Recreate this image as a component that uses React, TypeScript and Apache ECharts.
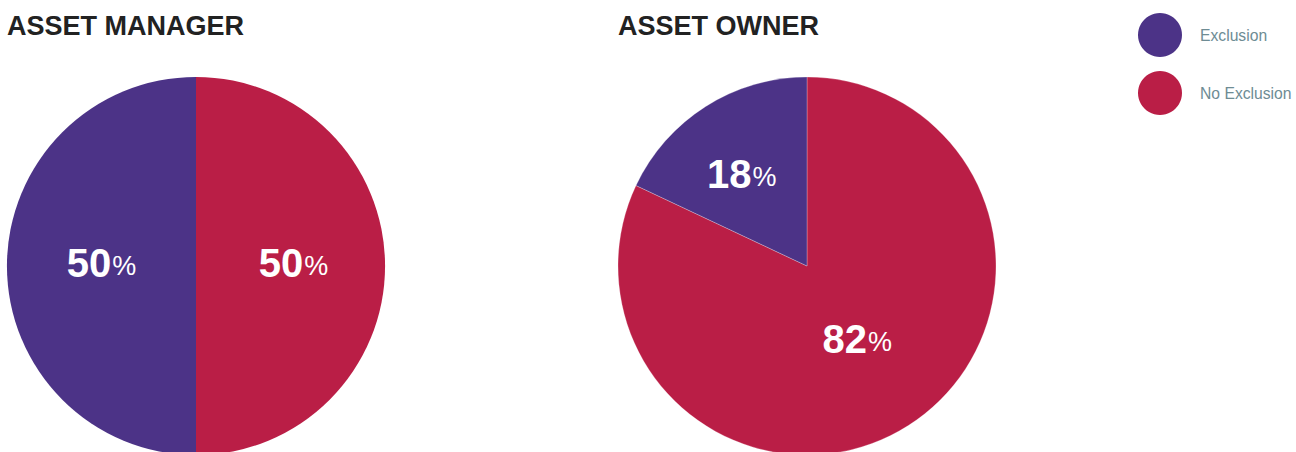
import React, { useEffect, useRef } from "react";
import * as echarts from "echarts";

const categories = ["Exclusion", "No Exclusion"];
const colors = ["#4c3387", "#ba1e46"];
const panelTitles = ["ASSET MANAGER", "ASSET OWNER"];
// values in order drawn clockwise from 12 o'clock: No Exclusion, Exclusion
const managerValues = { "No Exclusion": 50, Exclusion: 50 };
const ownerValues = { "No Exclusion": 82, Exclusion: 18 };
const drawOrder = ["No Exclusion", "Exclusion"];
const managerLabelOffsets = { "No Exclusion": [0, -3], Exclusion: [3, -3] };
const ownerLabelOffsets = { "No Exclusion": [-2, -9], Exclusion: [-13, -10] };

export default function App() {
  const ref = useRef<HTMLDivElement>(null);
  useEffect(() => {
    if (!ref.current) return;
    const chart = echarts.init(ref.current, null, { renderer: "svg" });
    const colorOf = (name: string) => colors[categories.indexOf(name)];
    const makeData = (vals: Record<string, number>, offs: Record<string, number[]>) =>
      drawOrder.map((n) => ({
        name: n,
        value: vals[n],
        itemStyle: { color: colorOf(n) },
        label: { offset: offs[n] },
      }));
    const label = {
      show: true,
      position: "inside",
      formatter: (p: any) => `{v|${p.value}}{p|%}`,
      rich: {
        v: { fontFamily: "Liberation Sans, Arial, sans-serif", fontSize: 40, fontWeight: "bold", color: "#ffffff" },
        p: { fontFamily: "Liberation Sans, Arial, sans-serif", fontSize: 27, color: "#ffffff", padding: [6, 0, 0, 1] },
      },
    };
    chart.setOption({
      animation: false,
      title: panelTitles.map((t, i) => ({
        text: t,
        left: i === 0 ? 2 : 613,
        top: 7,
        textStyle: {
          fontFamily: "Liberation Sans, Arial, sans-serif",
          fontSize: 27,
          fontWeight: "bold",
          color: "#222222",
        },
      })),
      legend: {
        orient: "vertical",
        left: 1133,
        top: 8,
        icon: "circle",
        itemWidth: 44,
        itemHeight: 44,
        itemGap: 14,
        data: categories,
        textStyle: {
          fontFamily: "Liberation Sans, Arial, sans-serif",
          fontSize: 15.7,
          color: "#6e8c94",
          padding: [0, 0, 0, 13],
        },
      },
      series: [
        {
          type: "pie",
          center: [196, 266],
          radius: 189,
          startAngle: 90,
          clockwise: true,
          label,
          labelLine: { show: false },
          emphasis: { disabled: true },
          data: makeData(managerValues, managerLabelOffsets),
        },
        {
          type: "pie",
          center: [807, 266],
          radius: 189,
          startAngle: 90,
          clockwise: true,
          label,
          labelLine: { show: false },
          emphasis: { disabled: true },
          itemStyle: { borderColor: "rgba(255,255,255,0.5)", borderWidth: 0.5 },
          data: makeData(ownerValues, ownerLabelOffsets),
        },
      ],
    });
    return () => chart.dispose();
  }, []);
  return (
    <div
      ref={ref}
      style={{ position: "fixed", left: 0, top: 0, width: 1296, height: 452, background: "#ffffff" }}
    />
  );
}
